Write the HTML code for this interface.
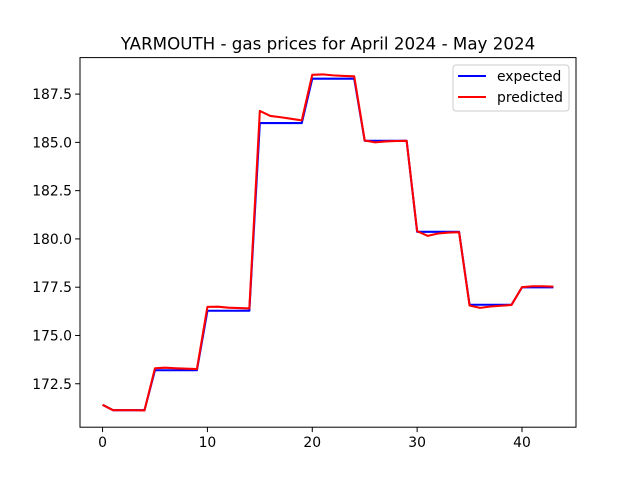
<!DOCTYPE html>
<html><head><meta charset="utf-8"><style>
html,body{margin:0;padding:0;background:#fff;}
svg{display:block;font-family:"DejaVu Sans","Liberation Sans",sans-serif;}
</style></head><body>
<svg id="chart" width="640" height="480">
<rect width="640" height="480" fill="#fff"/>
<text x="328" y="49.5" font-size="16.7" text-anchor="middle">YARMOUTH - gas prices for April 2024 - May 2024</text>
<g id="grid"></g>
<g id="plot"></g>
<rect x="80" y="57.6" width="496" height="369.6" fill="none" stroke="#000" stroke-width="1"/>
<g>
<rect x="453" y="65" width="116" height="46" rx="3" fill="#fff" stroke="#ccc"/>
<line x1="458" y1="76" x2="486" y2="76" stroke="#0000ff" stroke-width="2.08"/>
<text x="497" y="81" font-size="13.9">expected</text>
<line x1="458" y1="97" x2="486" y2="97" stroke="#ff0000" stroke-width="2.08"/>
<text x="497" y="102" font-size="13.9">predicted</text>
</g>
</svg>
<script>
const expected = [171.41,171.13,171.13,171.13,171.13,173.2,173.2,173.2,173.2,173.2,176.28,176.28,176.28,176.28,176.28,186.0,186.0,186.0,186.0,186.0,188.3,188.3,188.3,188.3,188.3,185.08,185.08,185.08,185.08,185.08,180.37,180.37,180.37,180.37,180.37,176.59,176.59,176.59,176.59,176.59,177.49,177.49,177.49,177.49];
const predicted = [171.41,171.13,171.13,171.13,171.12,173.3,173.33,173.3,173.28,173.26,176.48,176.49,176.44,176.42,176.4,186.63,186.37,186.3,186.22,186.14,188.5,188.52,188.47,188.44,188.42,185.1,185.0,185.05,185.07,185.08,180.4,180.16,180.28,180.33,180.35,176.55,176.43,176.5,176.54,176.58,177.5,177.55,177.55,177.53];
const xTicks = [0,10,20,30,40];
const yTicks = [172.5,175.0,177.5,180.0,182.5,185.0,187.5];

const L=80,R=576,T=57.6,B=427.2;
const n=expected.length;
const xMin=-(n-1)*0.05, xMax=(n-1)*1.05;
const all=expected.concat(predicted);
const dMin=Math.min(...all), dMax=Math.max(...all), pad=(dMax-dMin)*0.05;
const yMin=dMin-pad, yMax=dMax+pad;
const sx=v=>L+(v-xMin)/(xMax-xMin)*(R-L);
const sy=v=>B-(v-yMin)/(yMax-yMin)*(B-T);
const NS="http://www.w3.org/2000/svg";
const grid=document.getElementById('grid'), plot=document.getElementById('plot');
xTicks.forEach(t=>{
  const x=sx(t);
  const l=document.createElementNS(NS,'line');
  l.setAttribute('x1',x);l.setAttribute('x2',x);l.setAttribute('y1',B);l.setAttribute('y2',B+4.9);l.setAttribute('stroke','#000');
  
  
  grid.appendChild(l);
  const tx=document.createElementNS(NS,'text');
  tx.setAttribute('x',x);tx.setAttribute('y',B+20);tx.setAttribute('font-size','13.9');tx.setAttribute('text-anchor','middle');
  tx.textContent=t;
  
  
  grid.appendChild(tx);
});
yTicks.forEach(t=>{
  const y=sy(t);
  const l=document.createElementNS(NS,'line');
  l.setAttribute('x1',L-4.9);l.setAttribute('x2',L);l.setAttribute('y1',y);l.setAttribute('y2',y);l.setAttribute('stroke','#000');
  
  
  grid.appendChild(l);
  const tx=document.createElementNS(NS,'text');
  tx.setAttribute('x',L-8);tx.setAttribute('y',y+5);tx.setAttribute('font-size','13.9');tx.setAttribute('text-anchor','end');
  tx.textContent=t.toFixed(1);
  
  
  grid.appendChild(tx);
});
function line(arr,color,name){
  const p=document.createElementNS(NS,'polyline');
  p.setAttribute('points',arr.map((v,i)=>sx(i)+','+sy(v)).join(' '));
  p.setAttribute('fill','none');p.setAttribute('stroke',color);p.setAttribute('stroke-width','2.08');p.setAttribute('stroke-linejoin','round');
  
  
  plot.appendChild(p);
}
line(expected,'#0000ff','expected-line');
line(predicted,'#ff0000','predicted-line');
</script>
</body></html>
